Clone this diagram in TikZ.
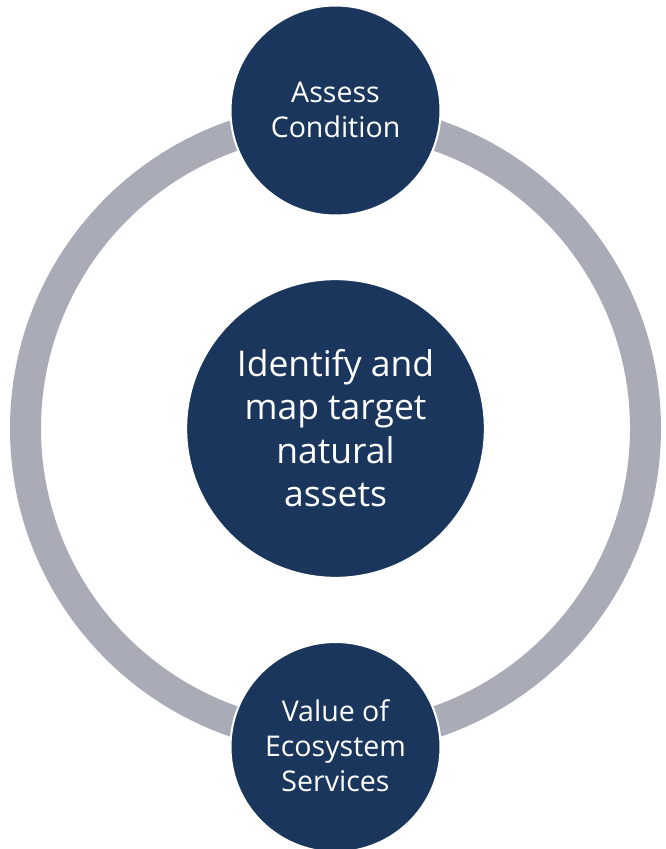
\documentclass[tikz,border=0pt]{standalone}
\usepackage{fontspec}
\setmainfont{Open Sans}
\definecolor{navy}{HTML}{1A365D}
\definecolor{ringgrey}{HTML}{A9ACB6}
\tikzset{
  hub/.style={circle,fill=navy,draw=white,line width=1.5pt,inner sep=0pt,text=white,align=center},
  centrehub/.style={hub,minimum size=224pt,font=\fontsize{26.6}{32.6}\selectfont},
  smallhub/.style={hub,minimum size=157.5pt,font=\fontsize{21.4}{26}\selectfont},
}
\begin{document}
\begin{tikzpicture}[x=0.75pt,y=-0.75pt]
\useasboundingbox (0,0) rectangle (665,849);
\coordinate (ringc) at (335.5,428.5);
\draw[ringgrey,line width=23.25pt] (ringc) circle (310);
\node[centrehub] (centre) at (335.5,428.5) {Identify and\\map target\\natural\\assets\\[-31.8pt]};
\node[smallhub] (top) at (335.5,110.5) {Assess\\Condition\\[-24.5pt]};
\node[smallhub] (bottom) at (335.5,747) {Value of\\Ecosystem\\Services\\[-23.8pt]};
\end{tikzpicture}
\end{document}
